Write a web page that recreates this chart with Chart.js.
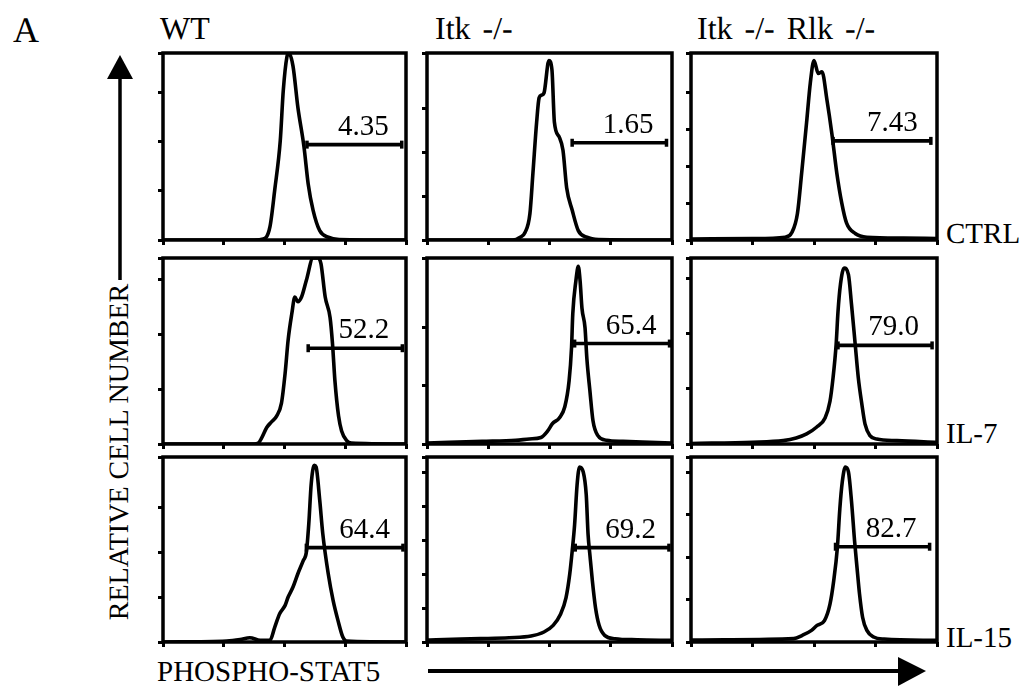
<!DOCTYPE html>
<html><head><meta charset="utf-8">
<script src="https://cdn.jsdelivr.net/npm/chart.js@4.4.0/dist/chart.umd.min.js"></script>
<style>
html,body{margin:0;padding:0;background:#fff;}
#wrap{position:relative;width:1026px;height:690px;overflow:hidden;background:#fff;}
canvas{position:absolute;}
svg{position:absolute;left:0;top:0;}
svg text{font-family:"Liberation Serif","Times New Roman",serif;fill:#000;-webkit-font-smoothing:grayscale;text-rendering:geometricPrecision;}
</style></head><body>
<div id="wrap">
<svg id="ov" width="1026" height="690" xmlns="http://www.w3.org/2000/svg"></svg>
</div>
<script>
// ---------- DATA ----------
const genotypes = ['WT', 'Itk -/-', 'Itk -/- Rlk -/-'];
const treatments = ['CTRL', 'IL-7', 'IL-15'];
const xAxisTitle = 'PHOSPHO-STAT5';
const yAxisTitle = 'RELATIVE CELL NUMBER';
const panelLetter = 'A';

// histogram x (log decades 0..4) and y (% of panel max)
const wtCtrlX  = [0, 1.5, 1.65, 1.76, 1.84, 1.93, 1.98, 2.04, 2.07, 2.14, 2.22, 2.32, 2.39, 2.47, 2.58, 2.72, 2.9, 4];
const wtCtrlY  = [0, 0, 0.5, 7, 27, 53, 80, 98, 100, 93, 71, 50, 30, 16, 5, 1.5, 0.3, 0];
const itkCtrlX = [0, 1.4, 1.52, 1.60, 1.68, 1.73, 1.79, 1.83, 1.87, 1.91, 1.99, 2.04, 2.08, 2.16, 2.22, 2.28, 2.37, 2.47, 2.61, 2.8, 4];
const itkCtrlY = [0, 0, 1.5, 4, 14, 36, 63, 76, 77.5, 78.6, 96, 91, 63, 55, 48, 28, 16, 5, 1.5, 0.3, 0];
const dkoCtrlX = [0, 1.0, 1.53, 1.64, 1.73, 1.80, 1.88, 1.94, 2.0, 2.07, 2.13, 2.21, 2.29, 2.37, 2.45, 2.53, 2.67, 2.86, 3.45, 4];
const dkoCtrlY = [0.5, 0.8, 1.5, 4, 14, 36, 63, 84, 96, 89, 90, 75, 57, 36, 20, 9, 3.5, 1.5, 1, 0.8];

const wtIl7X  = [0, 1.5, 1.57, 1.62, 1.71, 1.79, 1.87, 1.95, 2.01, 2.06, 2.12, 2.17, 2.22, 2.28, 2.36, 2.47, 2.55, 2.6, 2.67, 2.75, 2.79, 2.83, 2.89, 2.94, 3.02, 3.1, 4];
const wtIl7Y  = [0, 0, 0.5, 3, 9, 12, 15, 22, 38, 56, 70, 79, 76.5, 79, 88, 100, 100, 97, 79, 68, 54, 34, 15, 7, 2, 0.5, 0];
const itkIl7X = [0, 0.36, 0.9, 1.45, 1.67, 1.86, 1.97, 2.05, 2.16, 2.25, 2.32, 2.36, 2.38, 2.43, 2.47, 2.5, 2.53, 2.58, 2.61, 2.66, 2.71, 2.79, 2.93, 3.2, 3.64, 4];
const itkIl7Y = [0.5, 0.9, 1.4, 2, 2.7, 3.5, 7, 11, 14, 20, 34, 52, 70, 87.5, 95.5, 87.5, 73, 62.5, 46, 28.5, 12.5, 4.5, 2, 1.4, 0.9, 0.5];
const dkoIl7X = [0, 1.0, 1.5, 1.71, 1.88, 2.04, 2.18, 2.26, 2.31, 2.36, 2.39, 2.43, 2.49, 2.56, 2.61, 2.67, 2.72, 2.78, 2.83, 2.91, 3.02, 3.35, 4];
const dkoIl7Y = [0.3, 0.9, 1.8, 3.2, 5.4, 9, 14, 23, 35.7, 53.6, 71, 85.7, 94.6, 91, 75, 53.6, 35.7, 21, 10.7, 4.5, 2.7, 1.8, 0.9];

const wtIl15X  = [0, 1.05, 1.27, 1.43, 1.6, 1.76, 1.84, 1.92, 2.01, 2.06, 2.14, 2.22, 2.31, 2.36, 2.40, 2.44, 2.49, 2.52, 2.58, 2.63, 2.72, 2.80, 2.88, 2.96, 3.02, 4];
const wtIl15Y  = [0, 0.5, 1.3, 2.3, 0.9, 0.9, 8.1, 15.3, 19.8, 24.3, 29.7, 36.9, 44.1, 48.6, 64, 85.6, 95.5, 94.6, 76.6, 58.6, 36.9, 22.5, 11.7, 2.7, 0.5, 0];
const itkIl15X = [0, 0.15, 0.87, 1.34, 1.70, 1.91, 2.06, 2.18, 2.27, 2.33, 2.37, 2.41, 2.45, 2.49, 2.55, 2.6, 2.63, 2.66, 2.70, 2.75, 2.81, 2.9, 3.07, 3.43, 4];
const itkIl15Y = [1, 1.2, 1.8, 2.3, 3.2, 5.4, 9, 15, 24, 36.6, 49, 63.4, 84.8, 94.6, 92, 79.5, 58, 47, 33, 18.8, 9, 3.6, 1.8, 1.2, 0.9];
const dkoIl15X = [0, 0.54, 1.67, 1.81, 1.96, 2.05, 2.17, 2.26, 2.32, 2.38, 2.42, 2.46, 2.51, 2.56, 2.61, 2.66, 2.70, 2.74, 2.79, 2.86, 2.97, 3.14, 4];
const dkoIl15Y = [1, 1.2, 1.8, 3.6, 6.3, 9, 11.6, 20.5, 33, 51, 72, 86.6, 94.6, 92, 76, 54.5, 40, 26, 13.4, 6.3, 2.7, 1.6, 0.9];

// gates (row-major: CTRL row, IL-7 row, IL-15 row)
const gateStart  = [2.37, 2.37, 2.31, 2.39, 2.41, 2.39, 2.36, 2.42, 2.35];
const gateEnd    = [3.93, 3.91, 3.90, 3.94, 3.96, 3.92, 3.95, 3.95, 3.88];
const gateLevel  = [51, 52, 53, 51.5, 54, 53, 51, 51, 51.5];
const gateLabels = ['4.35', '1.65', '7.43', '52.2', '65.4', '79.0', '64.4', '69.2', '82.7'];

// axis ticks
const xTicks = [0, 1, 2, 3, 4];
const yTickStep = [26.3, 23.4, 19.7, 29.4, 31.2, 29.6, 24.3, 18.3, 22.9];

const histX = [wtCtrlX, itkCtrlX, dkoCtrlX, wtIl7X, itkIl7X, dkoIl7X, wtIl15X, itkIl15X, dkoIl15X];
const histY = [wtCtrlY, itkCtrlY, dkoCtrlY, wtIl7Y, itkIl7Y, dkoIl7Y, wtIl15Y, itkIl15Y, dkoIl15Y];

// ---------- LAYOUT ----------
const colLeft = [163, 427, 691], colRight = [406, 672, 937];
const rowTop = [53, 258, 457], rowBottom = [240, 444, 642];
const M = 10, AX = 6;
const FONT = '"Liberation Serif","Times New Roman",serif';

const framePlugin = {
  id: 'frame',
  afterDraw(chart) {
    const { ctx, chartArea: a } = chart;
    ctx.save();
    ctx.lineWidth = 3.5; ctx.strokeStyle = '#000';
    ctx.strokeRect(a.left, a.top, a.right - a.left, a.bottom - a.top);
    ctx.restore();
  }
};
const gateLabelPlugin = {
  id: 'gateLabel',
  afterDatasetsDraw(chart, args, opts) {
    const ctx = chart.ctx;
    const px = chart.scales.x.getPixelForValue(opts.end) - 13;
    const py = chart.scales.y.getPixelForValue(opts.level) - 10;
    ctx.save();
    ctx.font = '29px ' + FONT;
    ctx.fillStyle = '#000';
    ctx.textAlign = 'right'; ctx.textBaseline = 'alphabetic';
    ctx.fillText(opts.text, px, py);
    ctx.restore();
  }
};

const wrap = document.getElementById('wrap');
for (let r = 0; r < 3; r++) {
  for (let c = 0; c < 3; c++) {
    const i = r * 3 + c;
    const W = colRight[c] - colLeft[c], H = rowBottom[r] - rowTop[r];
    const cv = document.createElement('canvas');
    cv.width = W + 2 * M; cv.height = H + 2 * M;
    cv.style.left = (colLeft[c] - M) + 'px';
    cv.style.top = (rowTop[r] - M) + 'px';
    cv.style.width = cv.width + 'px'; cv.style.height = cv.height + 'px';
    wrap.appendChild(cv);
    const pts = histX[i].map((x, k) => ({ x: x, y: histY[i][k] }));
    const gate = [{ x: gateStart[i], y: gateLevel[i] }, { x: gateEnd[i], y: gateLevel[i] }];
    new Chart(cv, {
      type: 'line',
      data: {
        datasets: [
          { data: pts, borderColor: '#000', borderWidth: 3.6, pointRadius: 0, fill: false,
            cubicInterpolationMode: 'monotone', borderJoinStyle: 'round', borderCapStyle: 'round' },
          { data: gate, borderColor: '#000', backgroundColor: '#000', borderWidth: 3.6,
            pointRadius: 4, pointStyle: 'line', pointRotation: 90, pointBorderWidth: 3.5, fill: false }
        ]
      },
      options: {
        responsive: false, animation: false, devicePixelRatio: 1,
        layout: { padding: { left: M - AX, right: M, top: M, bottom: M - AX } },
        plugins: { legend: { display: false }, tooltip: { enabled: false },
          gateLabel: { end: gateEnd[i], level: gateLevel[i], text: gateLabels[i] } },
        scales: {
          x: { type: 'linear', min: xTicks[0], max: xTicks[xTicks.length - 1],
               afterBuildTicks: s => { s.ticks = xTicks.map(v => ({ value: v })); },
               afterFit: s => { s.height = AX; },
               ticks: { display: false },
               grid: { display: true, drawOnChartArea: false, drawTicks: true, tickLength: 5, lineWidth: 3, color: '#000' },
               border: { display: false } },
          y: { type: 'linear', min: 0, max: 100,
               ticks: { display: false, stepSize: yTickStep[i] },
               afterFit: s => { s.width = AX; },
               grid: { display: true, drawOnChartArea: false, drawTicks: true, tickLength: 5, lineWidth: 3, color: '#000' },
               border: { display: false } }
        }
      },
      plugins: [gateLabelPlugin, framePlugin]
    });
  }
}

// ---------- TEXT & ARROWS (SVG) ----------
const NS = 'http://www.w3.org/2000/svg';
const ov = document.getElementById('ov');
function el(tag, attrs, txt) {
  const e = document.createElementNS(NS, tag);
  for (const k in attrs) e.setAttribute(k, attrs[k]);
  if (txt !== undefined) e.textContent = txt;
  ov.appendChild(e); return e;
}
el('text', { x: 13, y: 42, 'font-size': 36 }, panelLetter);
const headerX = [160, 435, 697];
genotypes.forEach((g, c) => el('text', { x: headerX[c], y: 39, 'font-size': 32, 'word-spacing': 4 }, g));
const rowLabelY = [243, 443, 647];
treatments.forEach((t, r) => el('text', { x: 946, y: rowLabelY[r], 'font-size': 29 }, t));
el('text', { transform: 'translate(128,452) rotate(-90)', 'text-anchor': 'middle', 'font-size': 28 }, yAxisTitle);
el('text', { x: 157, y: 681, 'font-size': 29 }, xAxisTitle);
el('line', { x1: 120, y1: 280, x2: 120, y2: 74, stroke: '#000', 'stroke-width': 3.5 });
el('polygon', { points: '120,55 107,79 133,79', fill: '#000' });
el('line', { x1: 428, y1: 671, x2: 900, y2: 671, stroke: '#000', 'stroke-width': 4 });
el('polygon', { points: '926,671 898,657 898,686', fill: '#000' });
</script>
</body></html>
